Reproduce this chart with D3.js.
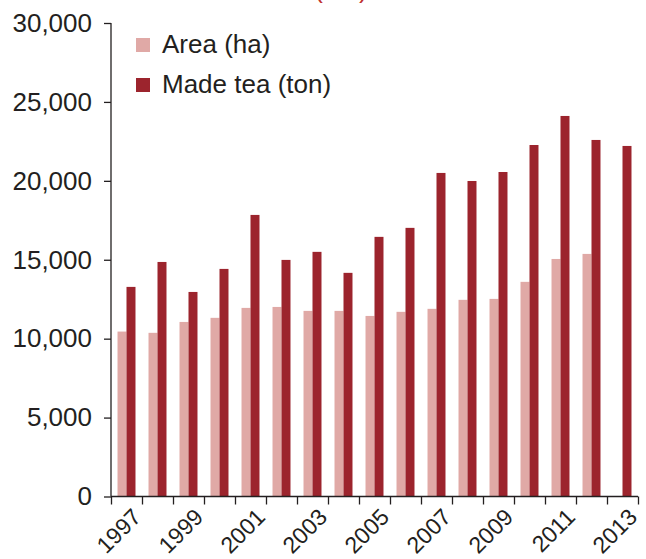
<!DOCTYPE html>
<html>
<head>
<meta charset="utf-8">
<script src="https://cdn.jsdelivr.net/npm/d3@7"></script>
<style>
  html, body { margin: 0; padding: 0; background: #ffffff; }
  svg { display: block; }
  text { font-family: "Liberation Sans", Arial, Helvetica, sans-serif; fill: #231f20; }
</style>
</head>
<body>
<script>
const years = ["1997","1998","1999","2000","2001","2002","2003","2004","2005","2006","2007","2008","2009","2010","2011","2012","2013"];
const areaHa = [10450, 10370, 11060, 11320, 11950, 12010, 11760, 11760, 11440, 11700, 11890, 12460, 12520, 13600, 15050, 15370, null];
const madeTeaTon = [13280, 14860, 12960, 14420, 17840, 14990, 15500, 14170, 16450, 17020, 20500, 19990, 20560, 22270, 24110, 22590, 22210];
const yTicks = [0, 5000, 10000, 15000, 20000, 25000, 30000];
const xLabels = ["1997","1999","2001","2003","2005","2007","2009","2011","2013"];
const seriesNames = ["Area (ha)", "Made tea (ton)"];
const seriesColors = ["#e0a9a6", "#9c242d"];

const W = 646, H = 559;
const mLeft = 111, mRight = 638, mTop = 23, mBottom = 496.5;

const svg = d3.select("body").append("svg").attr("width", W).attr("height", H);

// cut-off title fragment at the very top (as in the reference)
svg.append("text").attr("x", 341).attr("y", -2).attr("text-anchor", "middle")
  .style("font-size", "26px").style("fill", "#c0302f").text("(ton)");

const y = d3.scaleLinear().domain([0, 30000]).range([mBottom, mTop]);
const x = d3.scaleBand().domain(years).range([mLeft, mRight]).paddingInner(0.42).paddingOuter(0.21);
const xs = d3.scaleBand().domain([0, 1]).range([0, x.bandwidth()]);
const xb = d3.scaleBand().domain(years).range([mLeft, mRight]).padding(0);
const xl = d3.scaleLinear().domain([0, years.length]).range([mLeft, mRight]);

// bars
const series = [areaHa, madeTeaTon];
series.forEach((vals, si) => {
  svg.append("g").selectAll("rect")
    .data(years.map((yr, i) => ({ yr, v: vals[i] })).filter(d => d.v != null))
    .join("rect")
    .attr("x", d => x(d.yr) + xs(si))
    .attr("width", xs.bandwidth())
    .attr("y", d => y(d.v))
    .attr("height", d => y(0) - y(d.v))
    .attr("fill", seriesColors[si]);
});

// y axis
const yAxis = svg.append("g").attr("transform", `translate(${mLeft},0)`)
  .call(d3.axisLeft(y).tickValues(yTicks).tickSize(7).tickPadding(12).tickFormat(d3.format(",")));
yAxis.select(".domain").attr("stroke", "#231f20").attr("stroke-width", 1.3).attr("d", `M0,${mTop}V${mBottom}`);
yAxis.selectAll(".tick line").attr("stroke", "#231f20").attr("stroke-width", 1.3);
yAxis.selectAll(".tick text").style("font-size", "26px").style("font-family", "'Liberation Sans', Arial, sans-serif").attr("fill", "#231f20");

// x axis (ticks at category boundaries)
const xAxis = svg.append("g").attr("transform", `translate(0,${mBottom})`)
  .call(d3.axisBottom(xl).tickValues(d3.range(0, years.length + 1)).tickSize(8).tickFormat(""));
xAxis.select(".domain").attr("stroke", "#231f20").attr("stroke-width", 1.3).attr("d", `M${mLeft},0H${mRight}`);
xAxis.selectAll(".tick line").attr("stroke", "#231f20").attr("stroke-width", 1.3);

svg.append("g").selectAll("text").data(xLabels).join("text")
  .attr("transform", d => `translate(${xb(d) + xb.bandwidth() / 2 + 16},${mBottom + 22}) rotate(-45)`)
  .attr("text-anchor", "end")
  .style("font-size", "23px")
  .text(d => d);

// legend
const lg = svg.append("g");
seriesNames.forEach((name, i) => {
  lg.append("rect").attr("x", 136).attr("y", 38 + i * 40).attr("width", 14).attr("height", 14).attr("fill", seriesColors[i]);
  lg.append("text").attr("x", 162).attr("y", 53 + i * 40).style("font-size", "26px").text(name);
});
</script>
</body>
</html>
